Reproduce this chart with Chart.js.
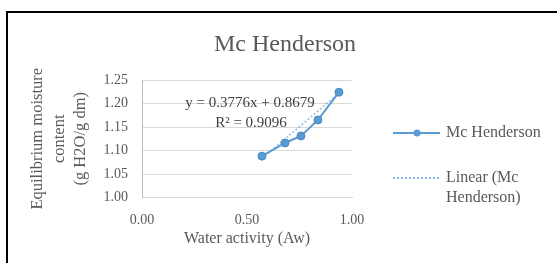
<!DOCTYPE html>
<html>
<head>
<meta charset="utf-8">
<script src="https://cdn.jsdelivr.net/npm/chart.js@4.4.1/dist/chart.umd.min.js"></script>
<style>
  html, body { margin: 0; padding: 0; background: #fff; }
  #wrap { position: relative; width: 557px; height: 263px; overflow: hidden; }
  #frame { position: absolute; left: 6px; top: 11px; width: 620px; height: 320px;
           border-left: 2px solid #000; border-top: 2px solid #000; }
  canvas { position: absolute; left: 0; top: 0; }
</style>
</head>
<body>
<div id="wrap">
  <div id="frame"></div>
  <canvas id="chart" width="557" height="263"></canvas>
</div>
<script>
// data
const waterActivity = [0.571, 0.681, 0.757, 0.838, 0.938];
const moistureContent = [1.088, 1.116, 1.131, 1.165, 1.224];

// linear trendline ends (y = 0.3776x + 0.8679)
const trendX = [0.571, 0.938];
const trendY = [1.083, 1.222];

const xTicks = [0, 0.5, 1];
const yTicks = [1.00, 1.05, 1.10, 1.15, 1.20, 1.25];

const chartTitle = 'Mc Henderson';
const xTitle = 'Water activity (Aw)';
const yTitle = ['Equilibrium moisture', 'content', '(g H2O/g dm)'];
const equation = ['y = 0.3776x + 0.8679', 'R² = 0.9096'];
const seriesName = 'Mc Henderson';
const trendName = ['Linear (Mc', 'Henderson)'];

const TEXT = '#595959';
const BLUE = '#5B9BD5';
const SERIF = "'Liberation Serif', 'Times New Roman', serif";

/* text, legend and trendline label drawn on top */
const overlay = {
    id: 'overlay',
    afterDraw(chart) {
        const c = chart.ctx;
        const area = chart.chartArea;
        c.save();
        c.fillStyle = TEXT;
        c.textAlign = 'center';
        c.textBaseline = 'middle';

        c.font = '24px ' + SERIF;
        c.fillText(chartTitle, 285, 45);

        c.font = '16px ' + SERIF;
        c.fillText(xTitle, (area.left + area.right) / 2, 239);

        // rotated y title
        c.save();
        c.translate(0, (area.top + area.bottom) / 2);
        c.rotate(-Math.PI / 2);
        c.font = '16.5px ' + SERIF;
        const cols = [38, 60, 81];
        yTitle.forEach((t, i) => c.fillText(t, 0, cols[i]));
        c.restore();

        // equation
        c.fillStyle = '#404040';
        c.font = '15px ' + SERIF;
        c.fillText(equation[0], 250, 103);
        c.fillText(equation[1], 251, 123);

        // legend
        c.fillStyle = TEXT;
        c.textAlign = 'left';
        c.font = '16px ' + SERIF;
        c.strokeStyle = BLUE;
        c.lineWidth = 2;
        c.beginPath();
        c.moveTo(393, 133);
        c.lineTo(440, 133);
        c.stroke();
        c.fillStyle = BLUE;
        c.beginPath();
        c.arc(417, 133, 3.5, 0, Math.PI * 2);
        c.fill();
        c.fillStyle = TEXT;
        c.fillText(seriesName, 446, 133);

        c.setLineDash([2, 2]);
        c.lineWidth = 1.5;
        c.beginPath();
        c.moveTo(393, 178);
        c.lineTo(440, 178);
        c.stroke();
        c.setLineDash([]);
        c.fillText(trendName[0], 446, 178);
        c.fillText(trendName[1], 446, 198);

        c.restore();
    }
};

new Chart(document.getElementById('chart'), {
    type: 'scatter',
    data: {
        datasets: [{
            label: seriesName,
            data: waterActivity.map((x, i) => ({ x: x, y: moistureContent[i] })),
            showLine: true,
            borderColor: BLUE,
            backgroundColor: BLUE,
            borderWidth: 2,
            pointRadius: 4,
            pointBorderColor: '#4A89C4',
            pointBorderWidth: 1,
            order: 1
        }, {
            label: 'Linear (Mc Henderson)',
            data: trendX.map((x, i) => ({ x: x, y: trendY[i] })),
            showLine: true,
            borderColor: 'rgba(91, 155, 213, 0.7)',
            borderWidth: 1.5,
            borderDash: [2, 2],
            pointRadius: 0,
            order: 2
        }]
    },
    options: {
        responsive: false,
        animation: false,
        devicePixelRatio: 1,
        layout: { padding: { left: 0, top: 80, right: 205, bottom: 0 } },
        plugins: {
            legend: { display: false },
            title: { display: false },
            tooltip: { enabled: false }
        },
        scales: {
            x: {
                type: 'linear',
                min: 0,
                max: 1,
                afterBuildTicks: (s) => { s.ticks = xTicks.map(v => ({ value: v })); },
                afterFit: (s) => { s.height = 65.5; },
                grid: { display: false },
                border: { display: true, color: '#D9D9D9', width: 1 },
                ticks: {
                    color: TEXT,
                    padding: 6,
                    font: { family: SERIF, size: 14 },
                    callback: (v) => Number(v).toFixed(2)
                }
            },
            y: {
                type: 'linear',
                min: 1,
                max: 1.25,
                afterBuildTicks: (s) => { s.ticks = yTicks.map(v => ({ value: v })); },
                afterFit: (s) => { s.width = 142; },
                grid: { color: '#D9D9D9', drawTicks: false },
                border: { display: true, color: '#BFBFBF', width: 1 },
                ticks: {
                    color: TEXT,
                    padding: 14,
                    font: { family: SERIF, size: 14 },
                    callback: (v) => Number(v).toFixed(2)
                }
            }
        }
    },
    plugins: [overlay]
});
</script>
</body>
</html>
